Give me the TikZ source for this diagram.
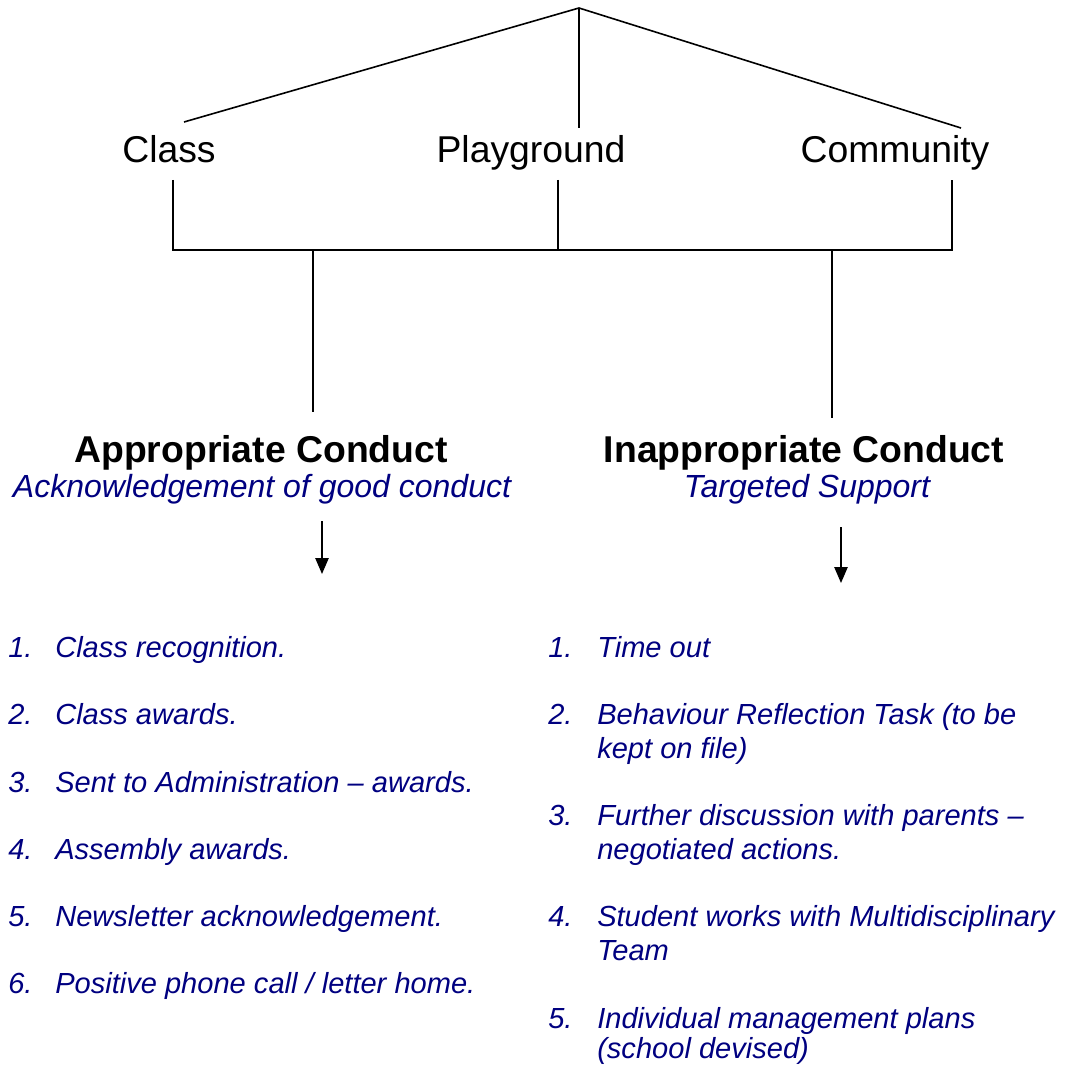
\documentclass[tikz,border=0pt]{standalone}
\usepackage{fontspec}
\setmainfont{Liberation Sans}
\usetikzlibrary{arrows.meta}
\definecolor{navy}{RGB}{0,0,128}
\begin{document}
\begin{tikzpicture}[x=0.75pt,y=-0.75pt,
  conn/.style={line width=1.2pt, draw=black},
  arr/.style={conn,-{Triangle[length=12pt,width=10pt]}},
  lbl/.style={font=\fontsize{28}{34}\selectfont, anchor=base, inner sep=0pt},
  head/.style={font=\fontsize{28}{34}\selectfont\bfseries, anchor=base, inner sep=0pt},
  sub/.style={font=\fontsize{24}{29}\selectfont\itshape, text=navy, anchor=base, inner sep=0pt},
  item/.style={font=\fontsize{21.8}{26}\selectfont\itshape, text=navy, anchor=base west, inner sep=0pt}]
\useasboundingbox (0,0) rectangle (1071,1066);

% top labels
\node[lbl] (cls) at (169,163) {Class};
\node[lbl] (play) at (531,163) {Playground};
\node[lbl] (comm) at (895,163) {Community};

% apex fan
\coordinate (apex) at (579,8);
\coordinate (clsT) at (184,122);
\coordinate (playT) at (579,128);
\coordinate (commT) at (961,128);
\draw[conn] (clsT) -- (apex) -- (commT);
\draw[conn] (apex) -- (playT);

% bracket below labels
\coordinate (clsB) at (173,180);
\coordinate (playB) at (558,180);
\coordinate (commB) at (952,180);
\coordinate (barL) at (173,250);
\coordinate (barM) at (558,250);
\coordinate (barR) at (952,250);
\draw[conn] (clsB) -- (barL) -- (barR) -- (commB);
\draw[conn] (playB) -- (barM);

% headings
\node[head] (app) at (261,462) {Appropriate Conduct};
\node[head] (inapp) at (804,462) {Inappropriate Conduct};
\node[sub] (appsub) at (262,497) {Acknowledgement of good conduct};
\node[sub] (inappsub) at (807,497) {Targeted Support};

% drops to headings
\coordinate (tickL) at (313,250);
\coordinate (tickR) at (832,250);
\coordinate (appT) at (313,412);
\coordinate (inappT) at (832,418);
\draw[conn] (tickL) -- (appT);
\draw[conn] (tickR) -- (inappT);

% arrows
\coordinate (aL1) at (322,521);
\coordinate (aL2) at (322,574);
\coordinate (aR1) at (841,527);
\coordinate (aR2) at (841,583);
\draw[arr] (aL1) -- (aL2);
\draw[arr] (aR1) -- (aR2);

% left list
\node[item] (ln1) at (8,657) {1.};
\node[item] (lt1) at (55,657) {Class recognition.};
\node[item] (ln2) at (8,724) {2.};
\node[item] (lt2) at (55,724) {Class awards.};
\node[item] (ln3) at (8,792) {3.};
\node[item] (lt3) at (55,792) {Sent to Administration – awards.};
\node[item] (ln4) at (8,859) {4.};
\node[item] (lt4) at (55,859) {Assembly awards.};
\node[item] (ln5) at (8,926) {5.};
\node[item] (lt5) at (55,926) {Newsletter acknowledgement.};
\node[item] (ln6) at (8,993) {6.};
\node[item] (lt6) at (55,993) {Positive phone call / letter home.};

% right list
\node[item] (rn1) at (548,657) {1.};
\node[item] (rt1) at (597,657) {Time out};
\node[item] (rn2) at (548,724) {2.};
\node[item] (rt2a) at (597,724) {Behaviour Reflection Task (to be};
\node[item] (rt2b) at (597,758) {kept on file)};
\node[item] (rn3) at (548,825) {3.};
\node[item] (rt3a) at (597,825) {Further discussion with parents –};
\node[item] (rt3b) at (597,859) {negotiated actions.};
\node[item] (rn4) at (548,926) {4.};
\node[item] (rt4a) at (597,926) {Student works with Multidisciplinary};
\node[item] (rt4b) at (597,960) {Team};
\node[item] (rn5) at (548,1028) {5.};
\node[item] (rt5a) at (597,1028) {Individual management plans};
\node[item] (rt5b) at (597,1058) {(school devised)};
\end{tikzpicture}
\end{document}
